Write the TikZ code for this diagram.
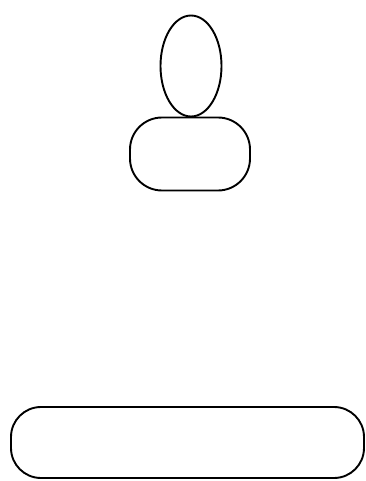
\documentclass[tikz,border=0pt]{standalone}
\usetikzlibrary{shapes.geometric}
\begin{document}
\begin{tikzpicture}[x=1pt,y=-1pt,
  outline/.style={draw=black,line width=1.9pt,inner sep=0pt,outer sep=0pt},
  oval/.style={outline,ellipse,minimum width=61pt,minimum height=101pt},
  pill/.style={outline,rectangle,rounded corners=27pt}]
\useasboundingbox[fill=white] (0,0) rectangle (366,481);
\node[oval] (head) at (191,66) {};
\node[pill,minimum width=120pt,minimum height=73pt,rounded corners=32pt] (body) at (190,154) {};
\node[pill,minimum width=353pt,minimum height=71pt,rounded corners=30pt] (base) at (187.5,442.5) {};
\end{tikzpicture}
\end{document}
